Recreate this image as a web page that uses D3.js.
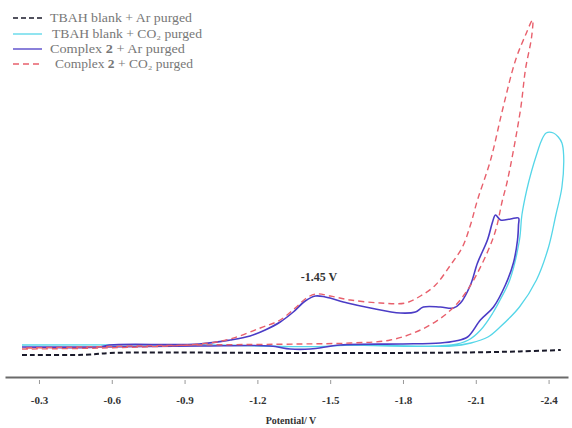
<!DOCTYPE html>
<html>
<head>
<meta charset="utf-8">
<script src="https://cdn.jsdelivr.net/npm/d3@7"></script>
<style>
  html, body { margin: 0; padding: 0; background: #fff; }
  svg { display: block; }
  text { font-family: "Liberation Serif", "Times New Roman", serif; }
</style>
</head>
<body>
<svg id="chart" width="572" height="428"></svg>
<script>
// ---- data: potential (V) vs current (a.u.) ----
const tickValues = [-0.3, -0.6, -0.9, -1.2, -1.5, -1.8, -2.1, -2.4];
const tickLabels = ["-0.3", "-0.6", "-0.9", "-1.2", "-1.5", "-1.8", "-2.1", "-2.4"];

const tbahAr = [
  [-0.23, 5.5], [-0.51, 5.6], [-0.59, 6.0], [-1.38, 6.0], [-2.0, 6.1], [-2.28, 6.4], [-2.45, 6.75]
];

const tbahCO2 = [
  [-0.23, 8.0], [-1.0, 8.0], [-1.35, 7.6], [-1.45, 7.6], [-1.6, 8.0], [-2.0, 7.75], [-2.08, 8.5],
  [-2.15, 10.0], [-2.2, 12.5], [-2.28, 17.5], [-2.35, 24.25], [-2.40, 32.5],
  [-2.43, 40.5], [-2.455, 47.5], [-2.462, 55.5], [-2.455, 58.5], [-2.44, 60.0],
  [-2.42, 61.0], [-2.39, 61.0], [-2.37, 59.0], [-2.35, 55.5], [-2.33, 51.5],
  [-2.31, 46.75], [-2.29, 40.5], [-2.28, 34.25], [-2.24, 24.25], [-2.2, 19.25],
  [-2.17, 16.0], [-2.12, 11.75], [-2.07, 9.25], [-2.0, 8.0], [-1.6, 8.0]
];

const complexAr = [
  [-0.23, 7.5], [-0.55, 7.5], [-0.59, 8.0], [-0.96, 8.25], [-1.088, 9.25], [-1.17, 10.25],
  [-1.232, 11.75], [-1.294, 13.75], [-1.348, 16.25], [-1.397, 19.0], [-1.439, 20.25],
  [-1.48, 20.0], [-1.571, 18.5], [-1.666, 17.25], [-1.789, 16.0], [-1.851, 16.25],
  [-1.884, 17.5], [-1.954, 17.5], [-2.008, 17.25], [-2.037, 18.5], [-2.078, 23.0],
  [-2.107, 28.5], [-2.148, 34.25], [-2.169, 38.75], [-2.181, 40.5], [-2.202, 39.25],
  [-2.243, 39.5], [-2.276, 39.75], [-2.276, 38.0], [-2.272, 34.25], [-2.255, 28.5],
  [-2.222, 23.0], [-2.173, 17.5], [-2.119, 14.25], [-2.066, 10.0], [-2.016, 9.0],
  [-1.954, 8.5], [-1.789, 8.25], [-1.542, 8.0], [-1.418, 7.0], [-1.335, 7.0],
  [-1.253, 7.75], [-0.964, 7.75], [-0.552, 7.5], [-0.23, 7.5]
];

const complexCO2 = [
  [-0.23, 7.0], [-0.552, 7.25], [-0.964, 8.25], [-1.088, 9.5], [-1.212, 12.25],
  [-1.294, 14.25], [-1.356, 17.25], [-1.397, 19.5], [-1.439, 20.75], [-1.50, 20.25],
  [-1.583, 19.25], [-1.707, 18.5], [-1.81, 18.5], [-1.872, 20.25], [-1.934, 23.0],
  [-1.996, 28.0], [-2.045, 32.5], [-2.078, 38.0], [-2.107, 44.25], [-2.161, 54.25],
  [-2.21, 66.75], [-2.264, 79.25], [-2.305, 85.5], [-2.334, 89.25],
  [-2.33, 85.0], [-2.305, 77.0], [-2.284, 66.75], [-2.231, 49.25], [-2.21, 44.25],
  [-2.173, 35.0], [-2.066, 21.75], [-1.983, 16.0], [-1.872, 11.75], [-1.748, 9.25],
  [-1.583, 8.5], [-1.377, 8.25], [-0.964, 8.0], [-0.23, 7.25]
];

const seriesNames = [
  "TBAH blank + Ar purged",
  "TBAH blank + CO\u2082 purged",
  "Complex 2 +  Ar purged",
  "Complex 2 + CO\u2082 purged"
];
const peakLabel = "-1.45 V";
const peakPoint = [-1.45, 22.5];
const xTitle = "Potential/ V";

// ---- drawing ----
const svg = d3.select("#chart");
const x = d3.scaleLinear().domain([-0.16, -2.48]).range([5, 568]);
const y = d3.scaleLinear().domain([0, 90]).range([377, 17]);

const line = d3.line()
  .x(d => x(d[0])).y(d => y(d[1]))
  .curve(d3.curveCatmullRom.alpha(0.5));

const styles = [
  { data: tbahAr,     color: "#1a1a2a", width: 2.0, dash: "5,3" },
  { data: tbahCO2,    color: "#55d6e8", width: 1.3, dash: null },
  { data: complexAr,  color: "#4b3cc6", width: 1.6, dash: null },
  { data: complexCO2, color: "#e8606c", width: 1.4, dash: "6,4" }
];

// draw order: cyan, purple, red, black
[1, 2, 3, 0].forEach(i => {
  const s = styles[i];
  svg.append("path")
    .attr("d", line(s.data))
    .attr("fill", "none")
    .attr("stroke", s.color)
    .attr("stroke-width", s.width)
    .attr("stroke-dasharray", s.dash)
    .attr("stroke-linejoin", "round");
});

// axis
const axis = d3.axisBottom(x)
  .tickValues(tickValues)
  .tickFormat((d, i) => tickLabels[i])
  .tickSizeInner(5)
  .tickSizeOuter(0)
  .tickPadding(14);

const gAxis = svg.append("g").attr("transform", "translate(0,377)").call(axis);
gAxis.select(".domain").attr("stroke", "#6a6a6a").attr("stroke-width", 2);
gAxis.selectAll(".tick line").attr("stroke", "#999").attr("stroke-width", 1)
  .attr("y1", 3).attr("y2", 7);
gAxis.selectAll(".tick text")
  .attr("font-family", "Liberation Serif, serif")
  .attr("font-size", 11)
  .attr("font-weight", "bold")
  .attr("fill", "#333");

svg.append("text")
  .attr("x", 291).attr("y", 424)
  .attr("text-anchor", "middle")
  .attr("font-size", 10).attr("font-weight", "bold").attr("fill", "#333")
  .text(xTitle);

svg.append("text")
  .attr("x", x(peakPoint[0]) + 1).attr("y", 281)
  .attr("text-anchor", "middle")
  .attr("font-size", 12).attr("font-weight", "bold").attr("fill", "#333")
  .text(peakLabel);

// legend
const legendY = [18, 34, 49, 64];
const legendTextX = [50, 52, 50, 55];
const legendWidths = [142, 150, 135, 138];
styles.forEach((s, i) => {
  svg.append("line")
    .attr("x1", 13).attr("x2", 42)
    .attr("y1", legendY[i]).attr("y2", legendY[i])
    .attr("stroke", s.color)
    .attr("stroke-width", i === 0 ? 1.6 : 1.3)
    .attr("stroke-dasharray", s.dash);
  const t = svg.append("text")
    .attr("x", legendTextX[i]).attr("y", legendY[i] + 4)
    .attr("font-size", 11.5).attr("fill", "#777")
    .attr("textLength", legendWidths[i]).attr("lengthAdjust", "spacingAndGlyphs");
  const name = seriesNames[i];
  if (name.startsWith("Complex 2")) {
    t.append("tspan").text("Complex ");
    t.append("tspan").attr("font-weight", "bold").text("2");
    t.append("tspan").text(name.slice(9));
  } else {
    t.text(name);
  }
});
</script>
</body>
</html>
